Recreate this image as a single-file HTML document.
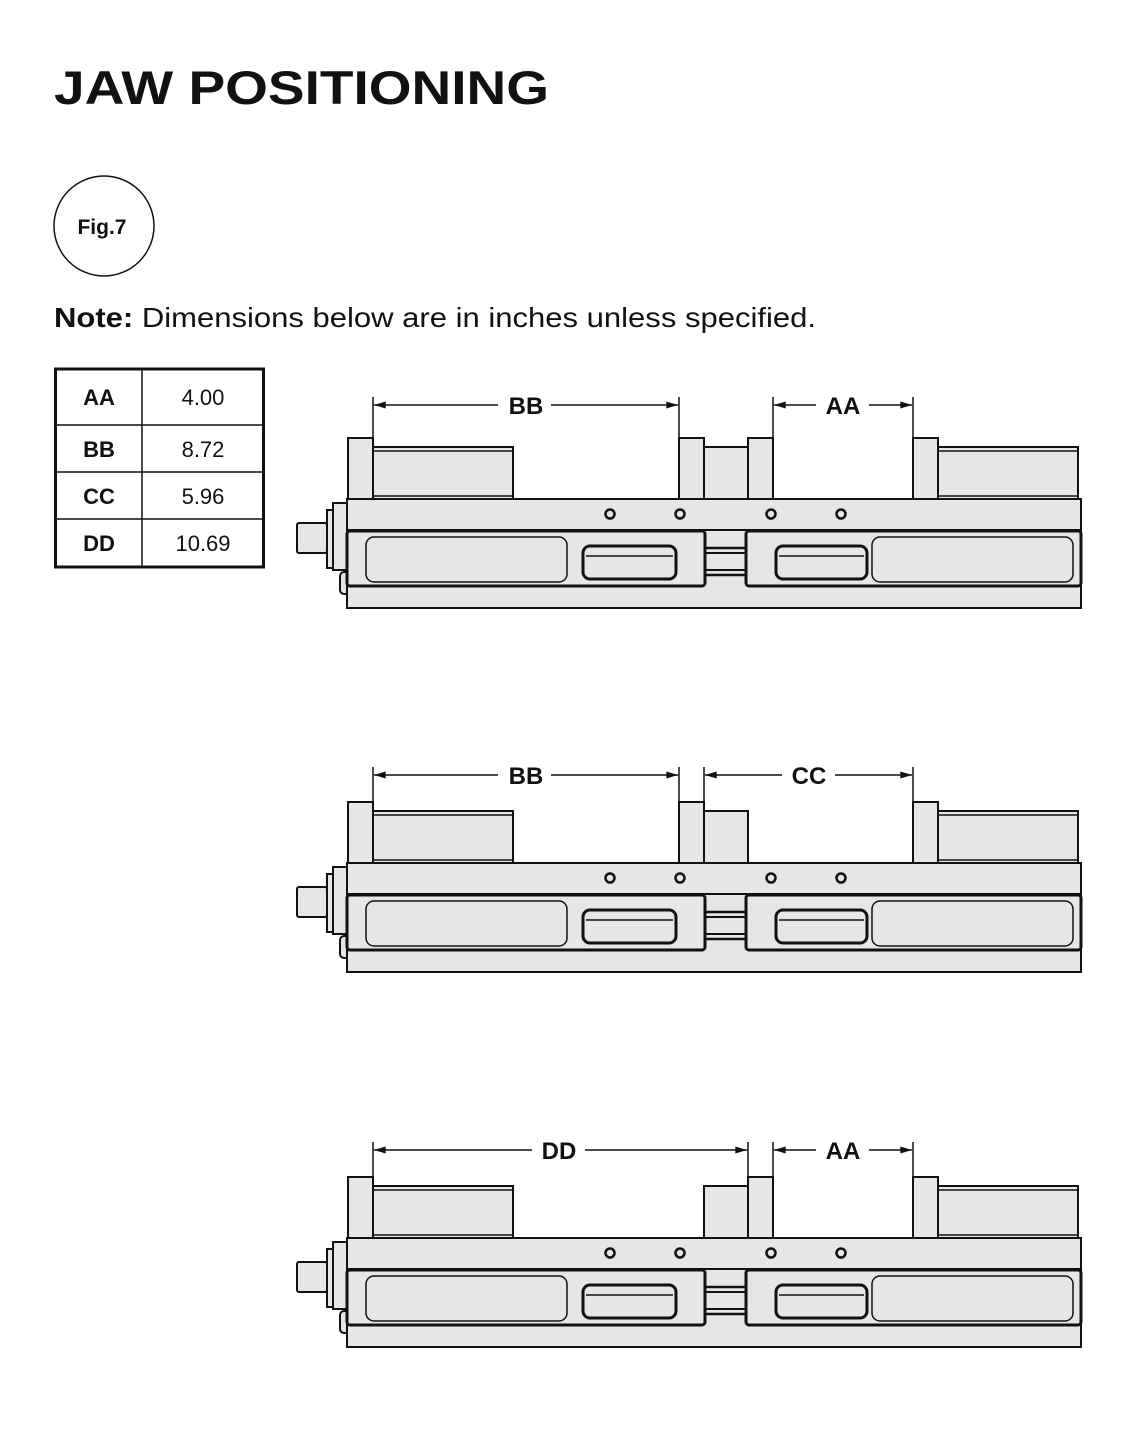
<!DOCTYPE html>
<html><head><meta charset="utf-8"><style>
html,body{margin:0;padding:0;background:#fff}
body{width:1146px;height:1440px;position:relative;overflow:hidden;font-family:"Liberation Sans",sans-serif}
</style></head><body>
<svg width="1146" height="1440" viewBox="0 0 1146 1440" xmlns="http://www.w3.org/2000/svg" style="position:absolute;left:0;top:0">
<defs>
<marker id="ar" viewBox="0 0 10 6" refX="10" refY="3" markerWidth="13" markerHeight="7" markerUnits="userSpaceOnUse" orient="auto-start-reverse"><path d="M10,3 L0,0 L0,6Z" fill="#111"/></marker>
<g id="body" stroke="#111" stroke-width="2" fill="#e6e6e6">
  <rect x="348" y="438" width="25" height="61"/>
  <rect x="373" y="447" width="140" height="52"/>
  <line x1="373" y1="451" x2="513" y2="451" stroke-width="1.5"/>
  <line x1="373" y1="496" x2="513" y2="496" stroke-width="1.5"/>
  <rect x="913" y="438" width="25" height="61"/>
  <rect x="938" y="447" width="140" height="52"/>
  <line x1="938" y1="451" x2="1078" y2="451" stroke-width="1.5"/>
  <line x1="938" y1="496" x2="1078" y2="496" stroke-width="1.5"/>
  <rect x="297" y="523" width="30" height="30" rx="2"/>
  <rect x="327" y="510" width="8" height="58"/>
  <rect x="333" y="503" width="14" height="67"/>
  <rect x="340" y="572" width="10" height="22" rx="4"/>
  <rect x="347" y="499" width="734" height="109"/>
  <line x1="347" y1="530" x2="1081" y2="530"/>
  <rect x="705" y="548" width="41" height="27" stroke-width="2.5"/>
  <line x1="705" y1="553" x2="746" y2="553"/>
  <line x1="705" y1="570" x2="746" y2="570"/>
  <rect x="347" y="531" width="358" height="55" rx="3" stroke-width="3"/>
  <rect x="746" y="531" width="335" height="55" rx="3" stroke-width="3"/>
  <rect x="366" y="537" width="201" height="45" rx="8" stroke-width="1.5"/>
  <rect x="872" y="537" width="201" height="45" rx="8" stroke-width="1.5"/>
  <rect x="583" y="546" width="93" height="33" rx="7" stroke-width="3"/>
  <line x1="586" y1="556" x2="673" y2="556" stroke-width="1.5"/>
  <rect x="776" y="546" width="91" height="33" rx="7" stroke-width="3"/>
  <line x1="779" y1="556" x2="864" y2="556" stroke-width="1.5"/>
  <circle cx="610" cy="514" r="4.5" fill="none" stroke-width="2.5"/>
  <circle cx="680" cy="514" r="4.5" fill="none" stroke-width="2.5"/>
  <circle cx="771" cy="514" r="4.5" fill="none" stroke-width="2.5"/>
  <circle cx="841" cy="514" r="4.5" fill="none" stroke-width="2.5"/>
</g>
<g id="blk" stroke="#111" stroke-width="2" fill="#e6e6e6"><rect x="704" y="447" width="44" height="52"/></g>
<g id="j1" stroke="#111" stroke-width="2" fill="#e6e6e6"><rect x="679" y="438" width="25" height="61"/></g>
<g id="j2" stroke="#111" stroke-width="2" fill="#e6e6e6"><rect x="748" y="438" width="25" height="61"/></g>
</defs>

<text x="54" y="104" font-size="47" font-weight="bold" fill="#111" textLength="495" lengthAdjust="spacingAndGlyphs">JAW POSITIONING</text>
<circle cx="104" cy="226" r="50" fill="none" stroke="#111" stroke-width="1.5"/>
<text x="102" y="234" font-size="21" font-weight="bold" text-anchor="middle" fill="#111">Fig.7</text>
<text x="54" y="327" font-size="28" fill="#111" textLength="762" lengthAdjust="spacingAndGlyphs"><tspan font-weight="bold">Note:</tspan> Dimensions below are in inches unless specified.</text>

<g stroke="#111" fill="none">
<rect x="55.5" y="369" width="208" height="198" stroke-width="3"/>
<line x1="142" y1="369" x2="142" y2="567" stroke-width="1.5"/>
<line x1="55" y1="425" x2="264" y2="425" stroke-width="1.5"/>
<line x1="55" y1="472" x2="264" y2="472" stroke-width="1.5"/>
<line x1="55" y1="519" x2="264" y2="519" stroke-width="1.5"/>
</g>
<g font-size="22" fill="#111" text-anchor="middle">
<text x="99" y="405" font-weight="bold">AA</text><text x="203" y="405">4.00</text>
<text x="99" y="457" font-weight="bold">BB</text><text x="203" y="457">8.72</text>
<text x="99" y="504" font-weight="bold">CC</text><text x="203" y="504">5.96</text>
<text x="99" y="551" font-weight="bold">DD</text><text x="203" y="551">10.69</text>
</g>

<use href="#body"/><use href="#j1"/><use href="#blk"/><use href="#j2"/>
<g transform="translate(0,364)"><use href="#body"/><use href="#j1"/><use href="#blk"/></g>
<g transform="translate(0,739)"><use href="#body"/><use href="#blk"/><use href="#j2"/></g>

<g stroke="#111" stroke-width="1.5" fill="none">
<line x1="373" y1="397" x2="373" y2="438"/><line x1="679" y1="397" x2="679" y2="438"/>
<line x1="773" y1="397" x2="773" y2="438"/><line x1="913" y1="397" x2="913" y2="438"/>
<line x1="374" y1="405" x2="498" y2="405" marker-start="url(#ar)"/><line x1="551" y1="405" x2="678" y2="405" marker-end="url(#ar)"/>
<line x1="774" y1="405" x2="816" y2="405" marker-start="url(#ar)"/><line x1="869" y1="405" x2="912" y2="405" marker-end="url(#ar)"/>
<line x1="373" y1="767" x2="373" y2="802"/><line x1="679" y1="767" x2="679" y2="802"/>
<line x1="704" y1="767" x2="704" y2="802"/><line x1="913" y1="767" x2="913" y2="802"/>
<line x1="374" y1="775" x2="498" y2="775" marker-start="url(#ar)"/><line x1="551" y1="775" x2="678" y2="775" marker-end="url(#ar)"/>
<line x1="705" y1="775" x2="782" y2="775" marker-start="url(#ar)"/><line x1="835" y1="775" x2="912" y2="775" marker-end="url(#ar)"/>
<line x1="373" y1="1142" x2="373" y2="1177"/><line x1="748" y1="1142" x2="748" y2="1177"/>
<line x1="773" y1="1142" x2="773" y2="1177"/><line x1="913" y1="1142" x2="913" y2="1177"/>
<line x1="374" y1="1150" x2="532" y2="1150" marker-start="url(#ar)"/><line x1="585" y1="1150" x2="747" y2="1150" marker-end="url(#ar)"/>
<line x1="774" y1="1150" x2="816" y2="1150" marker-start="url(#ar)"/><line x1="869" y1="1150" x2="912" y2="1150" marker-end="url(#ar)"/>
</g>
<g font-size="24" font-weight="bold" fill="#111" text-anchor="middle">
<text x="526" y="414">BB</text><text x="843" y="414">AA</text>
<text x="526" y="784">BB</text><text x="809" y="784">CC</text>
<text x="559" y="1159">DD</text><text x="843" y="1159">AA</text>
</g>
</svg>
</body></html>
